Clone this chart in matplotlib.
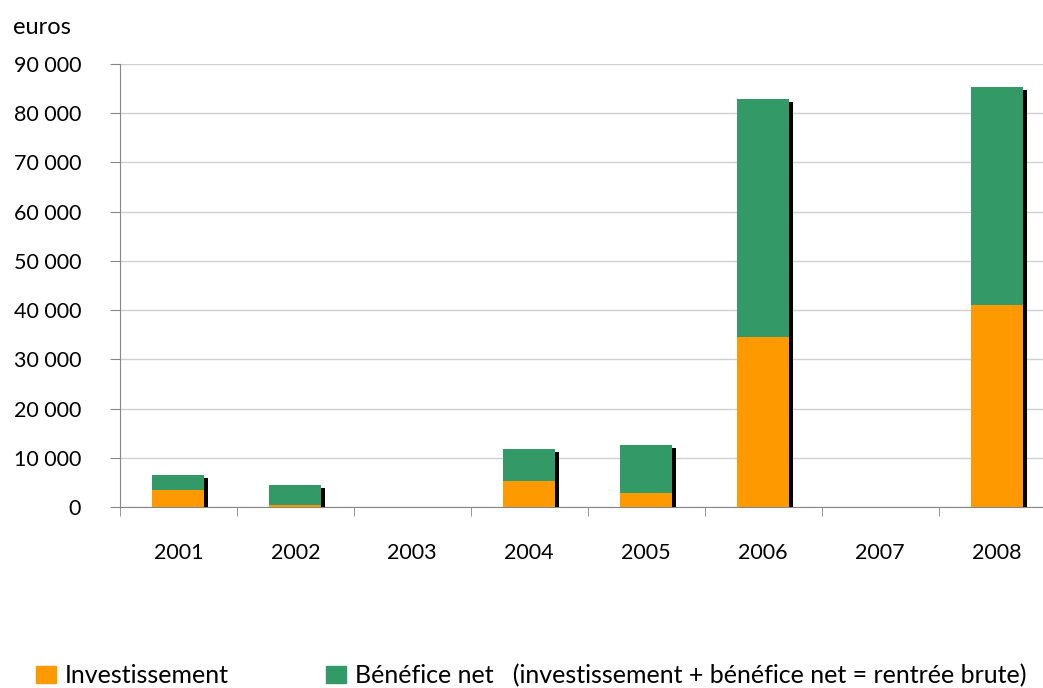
import matplotlib.pyplot as plt
import matplotlib.transforms as mtransforms
from matplotlib.patches import Patch
from matplotlib.ticker import FuncFormatter, MultipleLocator
import numpy as np

plt.rcParams['font.family'] = ['Lato', 'DejaVu Sans']
plt.rcParams['font.size'] = 15.5

years = ['2001', '2002', '2003', '2004', '2005', '2006', '2007', '2008']
investissement = [3500, 400, 0, 5300, 2800, 34500, 0, 41000]
benefice_net = [3100, 4000, 0, 6500, 9800, 48400, 0, 44400]

ORANGE = '#FF9900'
GREEN = '#339966'
GREY = '#868686'

fig = plt.figure(figsize=(10.43, 6.88), dpi=100)
ax = fig.add_axes([0.115, 0.263, 0.897, 0.644])

x = np.arange(len(years))
totals = np.array(investissement) + np.array(benefice_net)
w = 0.445

# black drop shadow behind each stacked bar
shadow = mtransforms.offset_copy(ax.transData, fig=fig, x=4, y=-3, units='dots')
for xi, t in zip(x, totals):
    if t > 0:
        ax.bar(xi, t, w, color='black', transform=shadow, zorder=2)

ax.bar(x, investissement, w, color=ORANGE, zorder=3)
ax.bar(x, benefice_net, w, bottom=investissement, color=GREEN, zorder=3)

ax.set_xlim(-0.5, len(years) - 0.5)
ax.set_ylim(0, 90000)
ax.yaxis.set_major_locator(MultipleLocator(10000))
ax.yaxis.set_major_formatter(FuncFormatter(lambda v, p: f'{int(v):,}'.replace(',', ' ')))
ax.grid(axis='y', color='#d0d0d0', linewidth=1, zorder=0)
ax.set_axisbelow(True)

ax.set_xticks(x)
ax.set_xticklabels(years)
ax.set_xticks(np.arange(len(years) + 1) - 0.5, minor=True)
ax.tick_params(axis='x', which='major', length=0, pad=26)
ax.tick_params(axis='x', which='minor', length=6.5, color=GREY, direction='out')
ax.tick_params(axis='y', length=7, color=GREY, pad=21)

for s in ['top', 'right']:
    ax.spines[s].set_visible(False)
ax.spines['left'].set_color(GREY)
ax.spines['bottom'].set_color(GREY)

fig.text(0.012, 0.96, 'euros', ha='left', va='center', fontsize=17)

handles = [Patch(color=ORANGE), Patch(color=GREEN)]
fig.legend(handles, ['Investissement',
                     'Bénéfice net   (investissement + bénéfice net = rentrée brute)'],
           loc='center left', bbox_to_anchor=(0.0345, 1 - 675.5 / 688), ncol=2,
           frameon=False, fontsize=18, borderpad=0, borderaxespad=0,
           handlelength=0.8, handleheight=0.68, handletextpad=0.36, columnspacing=3.9)

fig.savefig('out.png', dpi=100)
